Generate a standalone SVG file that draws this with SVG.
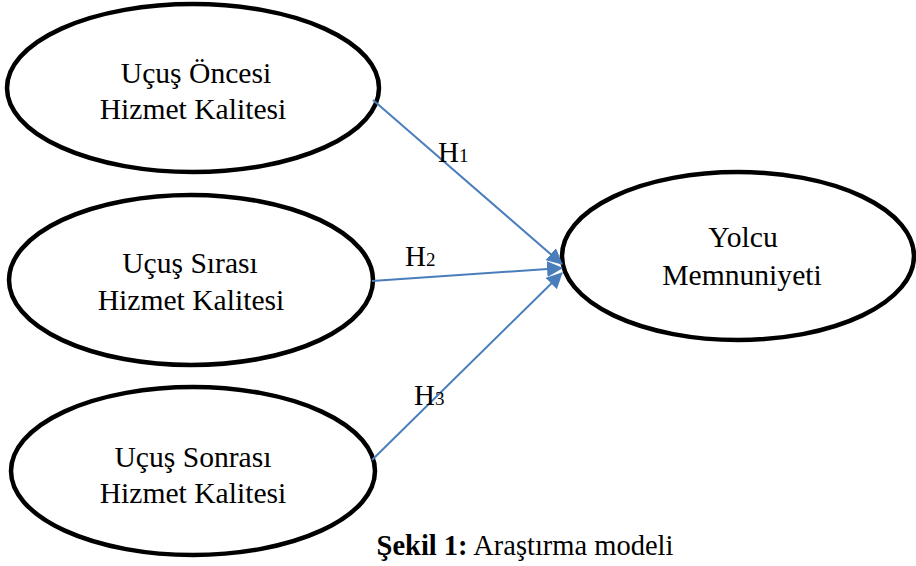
<svg xmlns="http://www.w3.org/2000/svg" width="916" height="566" viewBox="0 0 916 566">
<style>
.node ellipse{fill:#fff;stroke:#000;stroke-width:4.5}
.edge{stroke:#4a7ebb;stroke-width:2;fill:none;marker-end:url(#ah)}
</style>
<defs>
<marker id="ah" markerUnits="userSpaceOnUse" markerWidth="16" markerHeight="16" viewBox="0 0 16 16" refX="15" refY="8" orient="auto">
<path d="M0,0 L16,8 L0,16 Z" fill="#4a7ebb"/>
</marker>
</defs>
<rect width="916" height="566" fill="#fff"/>
<g font-family="'Liberation Serif', 'Times New Roman', serif" fill="#000">
<g id="n1" class="node" font-size="29.6" text-anchor="middle">
<ellipse cx="193" cy="88" rx="186" ry="84"/>
<text x="196" y="83">Uçuş Öncesi</text>
<text x="193" y="119">Hizmet Kalitesi</text>
</g>
<g id="n2" class="node" font-size="29.6" text-anchor="middle">
<ellipse cx="191" cy="280" rx="182" ry="85"/>
<text x="190" y="273">Uçuş Sırası</text>
<text x="191" y="310">Hizmet Kalitesi</text>
</g>
<g id="n3" class="node" font-size="29.6" text-anchor="middle">
<ellipse cx="193" cy="471" rx="182" ry="84"/>
<text x="193" y="467">Uçuş Sonrası</text>
<text x="193" y="503">Hizmet Kalitesi</text>
</g>
<g id="n4" class="node" font-size="29.6" text-anchor="middle">
<ellipse cx="738" cy="256" rx="176" ry="84"/>
<text x="743" y="247">Yolcu</text>
<text x="742" y="285">Memnuniyeti</text>
</g>
<g id="edges">
<line class="edge" x1="373" y1="100" x2="562" y2="264"/>
<line class="edge" x1="372" y1="281" x2="562" y2="268"/>
<line class="edge" x1="372" y1="460" x2="562" y2="273"/>
</g>
<g id="labels" font-size="29">
<text x="438" y="162">H<tspan font-size="19">1</tspan></text>
<text x="405" y="266">H<tspan font-size="19">2</tspan></text>
<text x="414" y="405">H<tspan font-size="19">3</tspan></text>
</g>
<text x="525" y="555" font-size="28.5" text-anchor="middle"><tspan font-weight="bold">Şekil 1:</tspan> Araştırma modeli</text>
</g>
</svg>
